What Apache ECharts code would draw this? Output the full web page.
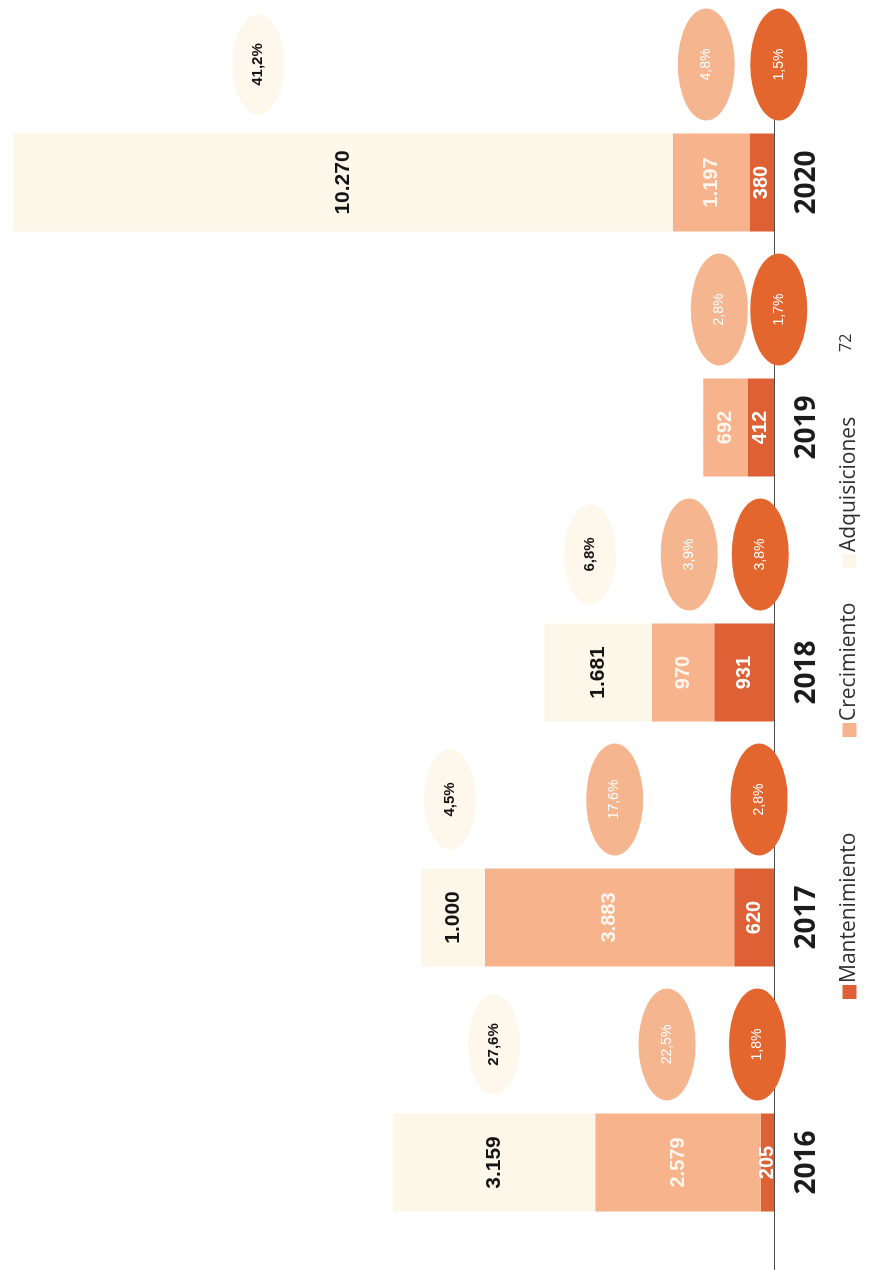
<!DOCTYPE html>
<html>
<head>
<meta charset="utf-8">
<script src="https://cdn.jsdelivr.net/npm/echarts@6/dist/echarts.min.js"></script>
<style>
  html, body { margin: 0; padding: 0; background: #ffffff; overflow: hidden; width: 873px; height: 1270px; }
  #wrap {
    position: absolute; left: 0; top: 0;
    width: 1270px; height: 873px;
    transform-origin: 0 0;
    transform: translate(0px, 1270px) rotate(-90deg);
    background: #ffffff;
  }
</style>
</head>
<body>
<div id="wrap"></div>
<script>
// ---- Data ----
const categories = ['2016', '2017', '2018', '2019', '2020'];
const mantenimiento = [205, 620, 931, 412, 380];
const crecimiento = [2579, 3883, 970, 692, 1197];
const adquisiciones = [3159, 1000, 1681, null, 10270];
const pctMantenimiento = [1.8, 2.8, 3.8, 1.7, 1.5];
const pctCrecimiento = [22.5, 17.6, 3.9, 2.8, 4.8];
const pctAdquisiciones = [27.6, 4.5, 6.8, null, 41.2];
const seriesNames = ['Mantenimiento', 'Crecimiento', 'Adquisiciones'];
const pageNumber = '72';

// ---- Layout / style (not data) ----
const colors = { m: '#de6136', c: '#f6b38c', a: '#fdf7ea' };
const bubbleColors = { m: '#e4662f', c: '#f5b68f', a: '#fdf7ec' };
const bubbleShift = 118;
const bubbleNudge = {
  m: [-10, 5, 16, 18, 17],
  c: [-11, 5, 6, -6, -5],
  a: [0, -3, -8, 0, -85]
};

function fmtThousands(v) {
  return String(v).replace(/\B(?=(\d{3})+(?!\d))/g, '.');
}
function fmtPct(v) {
  return String(v.toFixed(1)).replace('.', ',') + '%';
}

function bubbleData(values, pcts, base, nudges) {
  const out = [];
  values.forEach((v, i) => {
    if (v == null || pcts[i] == null) return;
    const mid = base[i] + v / 2;
    out.push({
      value: [i, mid],
      pct: pcts[i],
      symbolOffset: [bubbleShift, nudges[i]]
    });
  });
  return out;
}

const zeros = categories.map(() => 0);
const baseC = mantenimiento.map(v => v || 0);
const baseA = mantenimiento.map((v, i) => (v || 0) + (crecimiento[i] || 0));

const chart = echarts.init(document.getElementById('wrap'), null, { renderer: 'canvas' });

const barLabel = (color, size) => ({
  show: true,
  position: 'inside',
  color: color,
  fontSize: size,
  fontWeight: 'bold',
  fontFamily: 'Liberation Sans, Arial, sans-serif',
  formatter: p => fmtThousands(p.value)
});

const bubbleLabel = (color, size, weight) => ({
  show: true,
  position: 'inside',
  color: color,
  fontSize: size,
  fontWeight: weight,
  fontFamily: 'Liberation Sans, Arial, sans-serif',
  formatter: p => fmtPct(p.data.pct)
});

const legendCommon = {
  orient: 'horizontal',
  icon: 'rect',
  itemWidth: 14,
  itemHeight: 14,
  selectedMode: false,
  top: 834,
  textStyle: { fontSize: 21, fontFamily: 'Open Sans, sans-serif', color: '#2e2e2e', padding: [0, 0, 0, -3] }
};

chart.setOption({
  animation: false,
  backgroundColor: '#ffffff',
  grid: { left: -15, right: 60, top: 4, bottom: 99, containLabel: false, outerBoundsMode: 'none' },
  xAxis: {
    type: 'category',
    data: categories,
    axisLine: { show: true, lineStyle: { color: '#4d4d4d', width: 1.2 } },
    axisTick: { show: false },
    axisLabel: {
      fontSize: 28,
      fontWeight: 'bold',
      fontFamily: 'Open Sans, sans-serif',
      color: '#1c1c1c',
      margin: 19
    },
    z: 1
  },
  yAxis: {
    type: 'value',
    min: 0,
    max: 12000,
    show: false,
    splitLine: { show: false }
  },
  legend: [
    Object.assign({ data: [seriesNames[0]], left: 266 }, legendCommon),
    Object.assign({ data: [seriesNames[1]], left: 528 }, legendCommon),
    Object.assign({ data: [seriesNames[2]], left: 697 }, legendCommon)
  ],
  graphic: [
    {
      type: 'text',
      left: 918,
      top: 838,
      style: { text: pageNumber, fontSize: 16, fontFamily: 'Open Sans, sans-serif', fill: '#333333' }
    }
  ],
  series: [
    {
      name: seriesNames[0], type: 'bar', stack: 'total', barWidth: 98,
      data: mantenimiento,
      itemStyle: { color: colors.m },
      label: barLabel('#ffffff', 20),
      z: 3
    },
    {
      name: seriesNames[1], type: 'bar', stack: 'total', barWidth: 98,
      data: crecimiento,
      itemStyle: { color: colors.c },
      label: barLabel('#fff6ee', 20),
      z: 3
    },
    {
      name: seriesNames[2], type: 'bar', stack: 'total', barWidth: 98,
      data: adquisiciones,
      itemStyle: { color: colors.a },
      label: barLabel('#141414', 21),
      z: 3
    },
    {
      name: 'pctM', type: 'scatter',
      symbol: 'circle', symbolSize: [112, 57],
      data: bubbleData(mantenimiento, pctMantenimiento, zeros, bubbleNudge.m),
      itemStyle: { color: bubbleColors.m, opacity: 1 },
      label: bubbleLabel('#ffffff', 14, 'normal'),
      clip: false,
      z: 4
    },
    {
      name: 'pctC', type: 'scatter',
      symbol: 'circle', symbolSize: [112, 57],
      data: bubbleData(crecimiento, pctCrecimiento, baseC, bubbleNudge.c),
      itemStyle: { color: bubbleColors.c, opacity: 1 },
      label: bubbleLabel('#ffffff', 14, 'normal'),
      clip: false,
      z: 4
    },
    {
      name: 'pctA', type: 'scatter',
      symbol: 'circle', symbolSize: [100, 52],
      data: bubbleData(adquisiciones, pctAdquisiciones, baseA, bubbleNudge.a),
      itemStyle: { color: bubbleColors.a, opacity: 1 },
      label: bubbleLabel('#151515', 15, 'bold'),
      clip: false,
      z: 4
    }
  ]
});
</script>
</body>
</html>
